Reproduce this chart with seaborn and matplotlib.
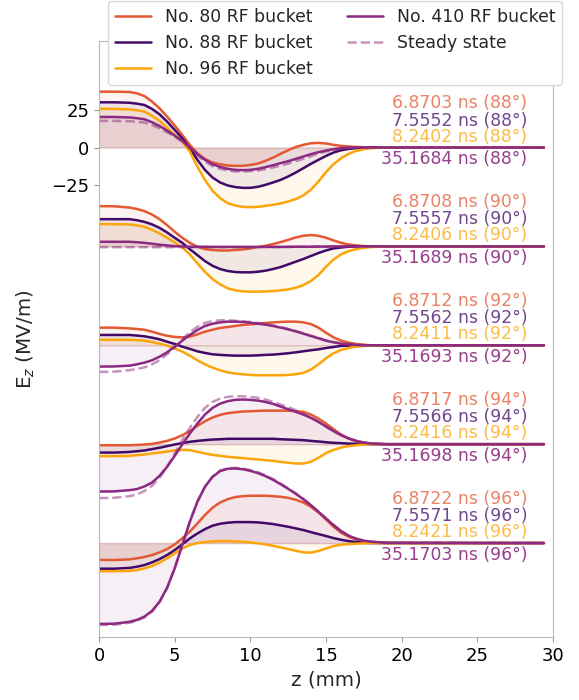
import numpy as np
import pandas as pd
import matplotlib
matplotlib.use('Agg')
import matplotlib.pyplot as plt
import seaborn as sns

# longitudinal position (mm)
z_mm = [0, 1, 2, 2.5, 3, 3.5, 4, 4.5, 5, 5.5, 6, 6.5, 7, 7.5, 8, 8.5, 9, 9.5, 10, 10.5,
        11, 11.5, 12, 12.5, 13, 13.5, 14, 14.5, 15, 15.5, 16, 16.5, 17, 17.5, 18, 19, 29.4]

phases = [88, 90, 92, 94, 96]

# Ez (MV/m) per phase
no80_88 = [37.3, 37.3, 37.1, 36.2, 34.4, 30.7, 26.2, 20.7, 14.7, 8.4, 1.8, -3.8, -7.6, -10, -11.1, -12, -12.2, -12.2, -11.6, -10.7,
           -8.9, -6.7, -4.2, -1.8, 0.4, 1.8, 2.9, 3.1, 2.7, 1.8, 1.1, 0.7, 0.4, 0.2, 0, 0, 0]
no88_88 = [30.2, 30.2, 29.9, 29.3, 28.4, 25.8, 22.2, 17.3, 11.8, 6.2, -0.4, -8.2, -14.9, -20, -23.3, -25.3, -26.4, -26.9, -26.9, -26.2,
           -24.9, -23.3, -21.6, -19.3, -16.7, -13.8, -10.9, -8.2, -5.6, -3.3, -1.8, -0.9, -0.4, -0.2, 0, 0, 0]
no96_88 = [25.8, 25.8, 25.5, 24.9, 24, 21.3, 17.8, 13.3, 8.4, 4, -2.7, -12.7, -21.6, -28.9, -33.8, -37.1, -38.7, -39.6, -39.8, -39.6,
           -38.9, -38.2, -37.3, -36, -34.4, -32, -28.2, -22.7, -16.4, -11.1, -7.1, -4.2, -2.2, -1.1, -0.4, 0, 0]
no410_88 = [20.4, 20.4, 20.1, 19.6, 18.9, 16.9, 14.4, 11.3, 8, 4.4, 0, -4.4, -8.2, -11.1, -12.9, -14.2, -14.9, -15.1, -14.9, -14.2,
            -13.1, -11.8, -10.4, -9.1, -7.6, -6, -4.4, -3.1, -2, -1.1, -0.4, -0.2, 0, 0, 0, 0, 0]
steady_88 = [17.8, 17.8, 17.6, 17.2, 16.7, 15.1, 12.9, 10.2, 7.3, 4, -0.4, -5.3, -9.3, -12.4, -14.2, -15.3, -16, -16, -15.8, -15.3,
             -14.4, -13.3, -12, -10.7, -9.1, -7.6, -5.8, -4, -2.7, -1.6, -0.7, -0.3, 0, 0, 0, 0, 0]

no80_90 = [26.9, 26.8, 26, 25, 23.6, 21.3, 18.2, 14.2, 9.8, 5.8, 2.4, -0.2, -1.8, -2.4, -2.7, -2.7, -2.4, -2, -1.3, -0.4,
           0.4, 1.6, 2.9, 4.4, 6, 7.1, 7.6, 7.1, 5.8, 4, 2.4, 1.3, 0.7, 0.2, 0, 0, 0]
no88_90 = [18.2, 18.2, 18.2, 17.5, 16.4, 14.7, 12.4, 9.3, 5.8, 2.4, -1.8, -5.8, -9.8, -12.9, -15.1, -16.4, -17.1, -17.3, -17.3, -16.9,
           -16.2, -15.1, -13.8, -12, -10.2, -8.4, -6.4, -4.4, -2.7, -1.3, -0.7, -0.2, 0, 0, 0, 0, 0]
no96_90 = [14.9, 14.9, 14.7, 14.1, 13.1, 11.1, 8.7, 5.8, 2.7, -0.7, -5.3, -11.3, -16.9, -21.8, -25.3, -28, -29.3, -30, -30.2, -30.2,
           -30, -29.8, -29.3, -28.7, -27.6, -25.8, -23.1, -19.1, -13.6, -8.7, -5.3, -3.1, -1.8, -0.9, -0.4, 0, 0]
no410_90 = [3.1, 3.1, 3.1, 2.8, 2.4, 1.8, 1.1, 0.7, 0.2, 0, -0.2, -0.2, -0.2, -0.3, -0.3, -0.3, -0.3, -0.3, -0.3, -0.3,
            -0.3, -0.3, -0.3, -0.3, -0.2, -0.2, -0.2, -0.1, -0.1, 0, 0, 0, 0, 0, 0, 0, 0]
steady_90 = [-0.5, -0.5, -0.5, -0.5, -0.5, -0.5, -0.5, -0.5, -0.5, -0.5, -0.5, -0.5, -0.5, -0.5, -0.5, -0.5, -0.5, -0.5, -0.5, -0.5,
             -0.4, -0.4, -0.4, -0.3, -0.2, -0.2, -0.2, -0.1, -0.1, 0, 0, 0, 0, 0, 0, 0, 0]

no80_92 = [11.8, 11.8, 11.3, 10.9, 10.4, 9.1, 7.6, 6.4, 5.6, 5.3, 5.8, 7.3, 9.1, 10.4, 11.6, 12.2, 12.9, 13.6, 14, 14.4,
           14.9, 15.3, 15.6, 15.8, 15.8, 15.3, 14.2, 11.8, 8.4, 5.3, 3.1, 1.8, 0.9, 0.4, 0, 0, 0]
no88_92 = [6.9, 6.9, 6.9, 6.5, 6, 5.1, 4, 2.4, 0.9, -0.9, -2.4, -4, -5.1, -6, -6.4, -6.7, -6.9, -6.9, -6.9, -6.7,
           -6.4, -6.2, -5.8, -5.3, -4.7, -4, -3.3, -2.7, -1.8, -1.1, -0.4, -0.2, 0, 0, 0, 0, 0]
no96_92 = [3.7, 3.7, 3.7, 3.5, 3.1, 2.2, 1.1, -0.2, -2, -4.2, -6.9, -10, -12.7, -14.9, -16.7, -18, -18.9, -19.3, -19.8, -20,
           -20, -20, -20, -19.8, -19.3, -18.4, -16.2, -12.7, -8.7, -5.3, -3.1, -1.8, -0.9, -0.4, -0.2, 0, 0]
no410_92 = [-14.2, -14.1, -13.6, -12.7, -11.6, -10, -7.6, -4.7, -0.9, 3.1, 6.9, 10.2, 12.9, 14.4, 15.3, 15.8, 15.8, 15.6, 15.1, 14.4,
            13.8, 12.9, 11.8, 10.7, 9.3, 7.8, 6.2, 4.7, 3.1, 2, 1.1, 0.7, 0.2, 0, 0, 0, 0]
steady_92 = [-17.8, -17.6, -16.6, -15.8, -14.7, -12.7, -10, -6, -1.6, 3.8, 8.7, 12.4, 14.9, 16.2, 16.7, 16.7, 16.4, 16, 15.6, 14.9,
             14.2, 13.3, 12.2, 10.9, 9.6, 8, 6.4, 4.9, 3.3, 2.2, 1.3, 0.7, 0.2, 0, 0, 0, 0]

no80_94 = [-0.7, -0.7, -0.7, -0.5, -0.2, 0.2, 1.1, 2.2, 3.8, 6, 8.7, 12.2, 15.3, 17.8, 19.6, 20.7, 21.3, 21.8, 22, 22.2,
           22.4, 22.4, 22.4, 22.4, 22, 21.6, 19.8, 17.1, 13.8, 10, 6.4, 3.8, 2, 0.9, 0.4, 0, 0]
no88_94 = [-5.6, -5.6, -5.2, -4.7, -4.2, -3.3, -2.4, -1.3, -0.2, 0.7, 1.6, 2.2, 2.7, 3.1, 3.3, 3.6, 3.6, 3.6, 3.6, 3.6,
           3.6, 3.6, 3.3, 3.1, 2.9, 2.7, 2.2, 1.8, 1.3, 0.9, 0.7, 0.4, 0.2, 0.1, 0, 0, 0]
no96_94 = [-8, -8, -7.8, -7.3, -6.9, -6.2, -5.6, -4.9, -4.2, -3.8, -4, -5.1, -6.2, -7.1, -7.8, -8.4, -8.9, -9.3, -9.8, -10.2,
           -10.7, -11.1, -11.8, -12.4, -12.9, -12.9, -11.8, -9.1, -6, -3.8, -2.2, -1.3, -0.7, -0.2, 0, 0, 0]
no410_94 = [-31.6, -31.5, -30.7, -30, -28.2, -25.6, -21.1, -15.1, -7.8, -0.2, 7.1, 13.8, 19.8, 24.2, 27.1, 28.7, 29.6, 29.8, 29.6, 29.1,
            28.2, 26.9, 25.1, 23.3, 21.6, 19.8, 17.6, 14.9, 11.8, 8.7, 6, 3.8, 2.2, 1.1, 0.4, 0, 0]
steady_94 = [-36, -35.8, -34.7, -33.6, -31.3, -27.8, -22.4, -15.1, -6.2, 2.7, 10.9, 18.2, 24.2, 28.2, 30.4, 31.6, 32, 32, 31.6, 30.9,
             29.8, 28.2, 26.4, 24.7, 22.7, 20.2, 17.8, 14.9, 11.8, 8.7, 6, 3.8, 2.2, 1.1, 0.4, 0, 0]

no80_96 = [-11.3, -11.3, -10.9, -10.2, -9.3, -8, -6.2, -4, -0.9, 3.1, 7.6, 13.1, 18.7, 23.6, 27.1, 29.3, 30.7, 31.3, 31.6, 31.6,
           31.6, 31.3, 30.9, 30.2, 28.9, 27.1, 24.2, 20.4, 15.8, 10.9, 6.9, 4.2, 2.4, 1.3, 0.7, 0, 0]
no88_96 = [-17.1, -17.1, -16.6, -15.8, -14.7, -12.9, -10.7, -8, -4.7, -0.9, 3.1, 6.4, 9.3, 11.6, 12.9, 13.6, 14, 14, 14, 13.8,
           13.3, 12.7, 11.8, 10.9, 9.8, 8.7, 7.3, 6, 4.7, 3.3, 2.2, 1.3, 0.7, 0.2, 0, 0, 0]
no96_96 = [-18.8, -18.8, -18.6, -18, -16.9, -15.3, -13.1, -10.2, -6.9, -3.6, -1.3, 0, 0.7, 1.1, 1.3, 1.3, 1.1, 0.9, 0.4, -0.2,
           -0.9, -1.8, -2.9, -4, -5.1, -6.2, -6.4, -5.3, -3.6, -2, -1.1, -0.7, -0.4, -0.2, 0, 0, 0]
no410_96 = [-54, -53.8, -52.6, -51.3, -49.1, -45.3, -39.1, -29.8, -16.9, -1.3, 14.2, 27.6, 37.6, 44.2, 48, 49.6, 49.8, 49.3, 48.2, 46.7,
            44.7, 42.2, 39.3, 36.2, 32.9, 29.3, 25.3, 20.9, 16.4, 12, 8, 4.9, 2.9, 1.6, 0.9, 0.2, 0]
steady_96 = [-54.7, -54.5, -53.2, -52, -49.6, -45.8, -39.5, -30, -17, -1.3, 14.2, 27.6, 37.6, 44.4, 48.4, 50, 50.2, 49.8, 48.7, 47.3,
             45.3, 42.7, 39.8, 36.5, 33.2, 29.5, 25.4, 21, 16.4, 12, 8, 4.9, 2.9, 1.6, 0.9, 0.2, 0]

# arrival times (ns) for each bucket
t_no80 = ['6.8703', '6.8708', '6.8712', '6.8717', '6.8722']
t_no88 = ['7.5552', '7.5557', '7.5562', '7.5566', '7.5571']
t_no96 = ['8.2402', '8.2406', '8.2411', '8.2416', '8.2421']
t_no410 = ['35.1684', '35.1689', '35.1693', '35.1698', '35.1703']

labels = ['No. 80 RF bucket', 'No. 88 RF bucket', 'No. 96 RF bucket', 'No. 410 RF bucket', 'Steady state']
colors = ['#e35932', '#420a68', '#fca50a', '#8c2981']

groups = [
    [no80_88, no88_88, no96_88, no410_88, steady_88],
    [no80_90, no88_90, no96_90, no410_90, steady_90],
    [no80_92, no88_92, no96_92, no410_92, steady_92],
    [no80_94, no88_94, no96_94, no410_94, steady_94],
    [no80_96, no88_96, no96_96, no410_96, steady_96],
]
times = [t_no80, t_no88, t_no96, t_no410]

sns.set_style('ticks', {'axes.edgecolor': '0.72'})
plt.rcParams['font.family'] = ['DejaVu Sans']

fig = plt.figure(figsize=(5.79, 7.0), dpi=100)
ax = fig.add_axes([0.171, 0.09, 0.7841, 0.8514])

shift = 66
z = np.array(z_mm)
for i, phase in enumerate(phases):
    off = -shift * i
    for j, vals in enumerate(groups[i]):
        y = np.array(vals) + off
        if j < 4:
            c = colors[j]
            sns.lineplot(x=z, y=y, color=c, lw=1.8, ax=ax, sort=False,
                         label=labels[j] if i == 0 else None)
            # shade each bucket down to its own zero line
            ax.fill_between(z, y, off, color=c, alpha=0.07, lw=1)
        else:
            sns.lineplot(x=z, y=y, color=colors[3], lw=1.8, ls='--', alpha=0.5, ax=ax, sort=False,
                         label=labels[j] if i == 0 else None)
    # labels on the right
    dy = [29.6, 18.0, 7.3, -7.7]
    for j in range(4):
        ax.text(28.3, off + dy[j], '%s ns (%d°)' % (times[j][i], phase),
                ha='right', va='center', fontsize=12.4, color=colors[j],
                alpha=0.75 if j < 3 else 0.9)

ax.set_xlim(0, 30)
ax.set_ylim(-326.7, 71.1)
ax.set_xticks([0, 5, 10, 15, 20, 25, 30])
ax.set_yticks([25, 0, -25])
ax.tick_params(axis='both', colors='0.6', labelcolor='black', labelsize=13, length=3.5)
ax.set_xlabel('z (mm)', fontsize=14.3)
ax.set_ylabel('E$_z$ (MV/m)', fontsize=14.3, labelpad=10)

handles, labs = ax.get_legend_handles_labels()
leg = ax.legend(handles, labs, ncol=2, fontsize=12.4, loc='upper right',
                bbox_to_anchor=(0.971, 0.998), bbox_transform=fig.transFigure,
                borderaxespad=0, framealpha=1, edgecolor='0.85', handlelength=2.1,
                labelspacing=0.45)

fig.savefig('out.png', dpi=100)
